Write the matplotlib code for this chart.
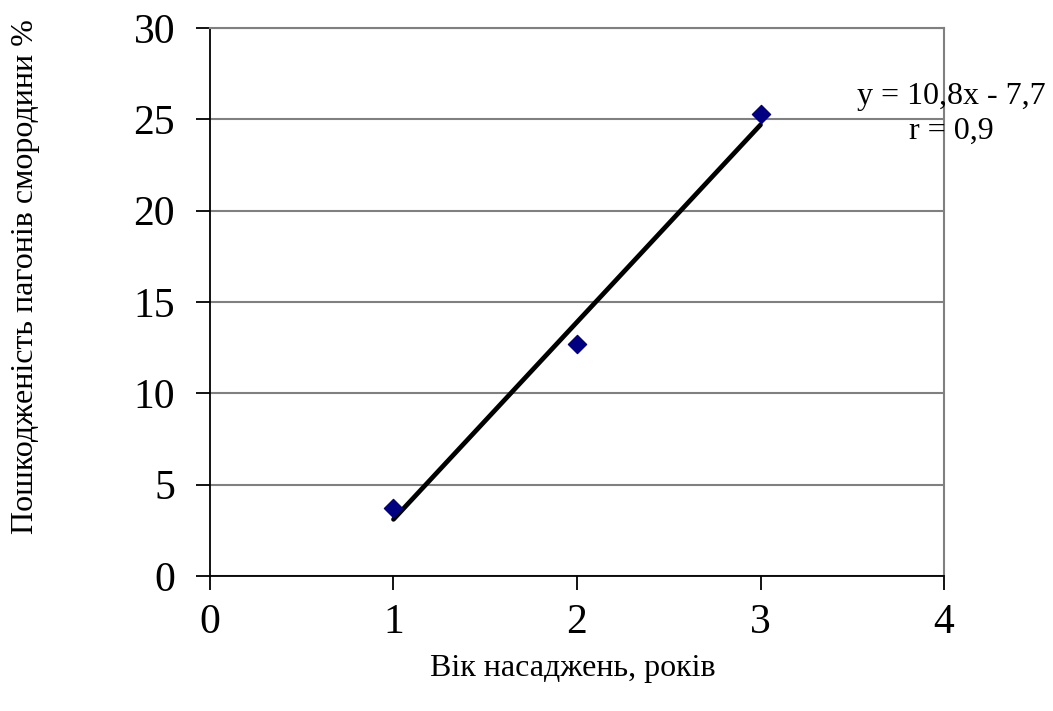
import numpy as np
import matplotlib
matplotlib.use("Agg")
import matplotlib.pyplot as plt

plt.rcParams["font.family"] = ["Liberation Serif", "DejaVu Serif"]

# Data
age_years = [1, 2, 3]
damage_pct = [3.7, 12.7, 25.3]
slope, intercept = 10.8, -7.7
r_value = 0.9

x_ticks = [0, 1, 2, 3, 4]
y_ticks = [0, 5, 10, 15, 20, 25, 30]

fig = plt.figure(figsize=(10.53, 7.11), dpi=100)
ax = fig.add_axes([0.1994, 0.1899, 0.6971, 0.7707])

ax.set_xlim(0, 4)
ax.set_ylim(0, 30)
ax.set_xticks(x_ticks)
ax.set_yticks(y_ticks)

ax.grid(axis="y", color="#808080", lw=1.5)
ax.set_axisbelow(True)

fit_x = np.array([age_years[0], age_years[-1]])
ax.plot(fit_x, slope * fit_x + intercept, color="black", lw=3.4,
        solid_capstyle="round", zorder=2)
ax.scatter(age_years, damage_pct, marker="D", s=85, color="#000080", zorder=3)

ax.text(4.04, 25.3, "y = 10,8x - 7,7\nr = 0,9", ha="center", va="center",
        multialignment="center", fontsize=23, linespacing=1.3)

for side in ["top", "right"]:
    ax.spines[side].set_color("#808080")
    ax.spines[side].set_linewidth(1.5)
ax.spines["left"].set_linewidth(1.3)
ax.spines["bottom"].set_linewidth(1.3)

ax.tick_params(axis="both", direction="out", length=10, width=1.3,
               labelsize=30, color="black")
ax.tick_params(axis="x", pad=10)
ax.tick_params(axis="y", pad=15)

ax.set_xlabel("Вік насаджень, років", fontsize=23)
ax.set_ylabel("Пошкодженість пагонів смородини %", fontsize=23)
ax.xaxis.set_label_coords(0.4946, -0.143)
ax.yaxis.set_label_coords(-0.232, 0.547)

fig.savefig("out.png", dpi=100)
